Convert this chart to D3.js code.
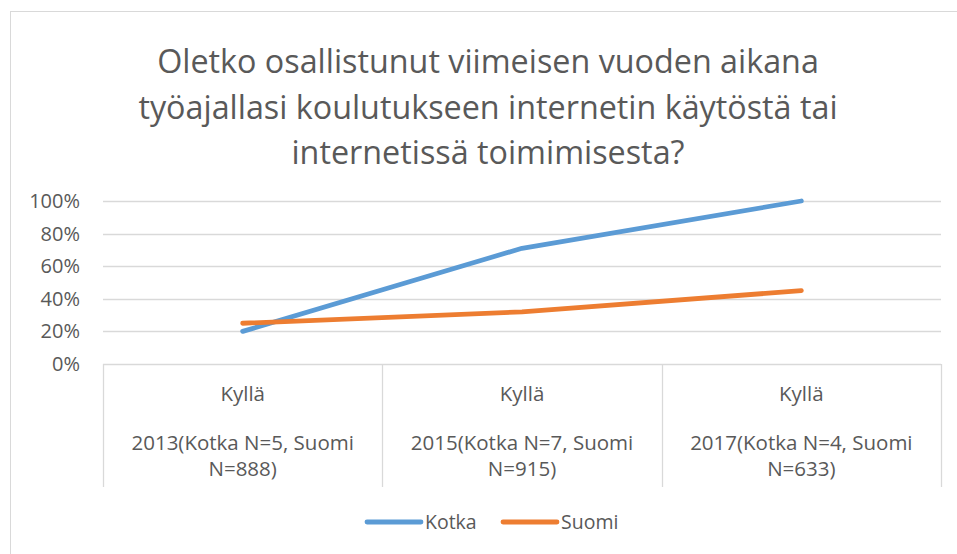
<!DOCTYPE html>
<html>
<head>
<meta charset="utf-8">
<script src="https://cdn.jsdelivr.net/npm/d3@7"></script>
<style>
  body { margin: 0; background: #fff; }
  text { font-family: "Open Sans", "Noto Sans", sans-serif; fill: #595959; }
</style>
</head>
<body>
<script>
// data
var categories = ['2013', '2015', '2017'];
var catTop = ['Kyllä', 'Kyllä', 'Kyllä'];
var catLines = [
  ['2013(Kotka N=5, Suomi', 'N=888)'],
  ['2015(Kotka N=7, Suomi', 'N=915)'],
  ['2017(Kotka N=4, Suomi', 'N=633)']
];
var kotka = [0.20, 0.71, 1.00];
var suomi = [0.25, 0.32, 0.45];
var yTicks = [0, 0.2, 0.4, 0.6, 0.8, 1.0];
var seriesNames = ['Kotka', 'Suomi'];
var colors = ['#5B9BD5', '#ED7D31'];
var titleLines = [
  'Oletko osallistunut viimeisen vuoden aikana',
  'työajallasi koulutukseen internetin käytöstä tai',
  'internetissä toimimisesta?'
];

var svg = d3.select('body')
    .append('svg')
    .attr('width', 957)
    .attr('height', 554)
    .style('display', 'block');

// chart border
svg.append('rect')
    .attr('x', 10.5)
    .attr('y', 11.5)
    .attr('width', 960)
    .attr('height', 560)
    .attr('fill', 'none')
    .attr('stroke', '#d9d9d9');

// title
var title = svg.append('g');
titleLines.forEach(function (t, i) {
  title.append('text')
      .attr('x', 488)
      .attr('y', 73 + i * 45.5)
      .attr('text-anchor', 'middle')
      .style('font-size', '30px')
      .text(t);
});
// size the first line to the reference width and apply the same size to all
var w0 = title.select('text').node().getComputedTextLength();
var fs = 30 * 662 / w0;
title.selectAll('text').style('font-size', fs + 'px');

var plotL = 103, plotR = 941, plotT = 201, plotB = 364;

var x = d3.scaleBand().domain(categories).range([plotL, plotR]);
var y = d3.scaleLinear().domain([0, 1]).range([plotB, plotT]);

// gridlines
svg.append('g')
    .selectAll('line')
    .data(yTicks)
    .enter()
    .append('line')
    .attr('x1', plotL)
    .attr('x2', plotR)
    .attr('y1', function (d) { return Math.round(y(d)) + 0.5; })
    .attr('y2', function (d) { return Math.round(y(d)) + 0.5; })
    .attr('stroke', '#d9d9d9')
    .attr('stroke-width', 1.3);

// y labels
svg.append('g')
    .selectAll('text')
    .data(yTicks)
    .enter()
    .append('text')
    .attr('x', 80)
    .attr('y', function (d) { return y(d) + 7; })
    .attr('text-anchor', 'end')
    .style('font-size', '20px')
    .text(d3.format('.0%'));

// category box lines
var bounds = categories.map(function (c) { return x(c); }).concat([plotR]);
svg.append('g')
    .selectAll('line')
    .data(bounds)
    .enter()
    .append('line')
    .attr('x1', function (d) { return Math.round(d) + 0.5; })
    .attr('x2', function (d) { return Math.round(d) + 0.5; })
    .attr('y1', plotB)
    .attr('y2', 487)
    .attr('stroke', '#d9d9d9')
    .attr('stroke-width', 1.3);

// category labels
var cat = svg.append('g')
    .selectAll('g')
    .data(categories)
    .enter()
    .append('g')
    .attr('transform', function (d) { return 'translate(' + (x(d) + x.bandwidth() / 2) + ',0)'; });

cat.append('text')
    .attr('y', 401)
    .attr('text-anchor', 'middle')
    .style('font-size', '20.5px')
    .text(function (d, i) { return catTop[i]; });

cat.each(function (d, i) {
  var g = d3.select(this);
  catLines[i].forEach(function (t, j) {
    g.append('text')
        .attr('y', 450 + j * 26)
        .attr('text-anchor', 'middle')
        .style('font-size', '20.5px')
        .text(t);
  });
});

// lines
var line = d3.line()
    .x(function (d, i) { return x(categories[i]) + x.bandwidth() / 2; })
    .y(function (d) { return y(d); });

[kotka, suomi].forEach(function (s, i) {
  svg.append('path')
      .datum(s)
      .attr('d', line)
      .attr('fill', 'none')
      .attr('stroke', colors[i])
      .attr('stroke-width', 4.8)
      .attr('stroke-linecap', 'round')
      .attr('stroke-linejoin', 'round');
});

// legend
var legend = svg.append('g')
    .selectAll('g')
    .data(seriesNames)
    .enter()
    .append('g')
    .attr('transform', function (d, i) { return 'translate(' + (367 + i * 136) + ',522)'; });

legend.append('line')
    .attr('x1', 0)
    .attr('x2', 54)
    .attr('stroke', function (d, i) { return colors[i]; })
    .attr('stroke-width', 4.8)
    .attr('stroke-linecap', 'round');

legend.append('text')
    .attr('x', 58)
    .attr('y', 7)
    .style('font-size', '19.5px')
    .text(function (d) { return d; });
</script>
</body>
</html>
